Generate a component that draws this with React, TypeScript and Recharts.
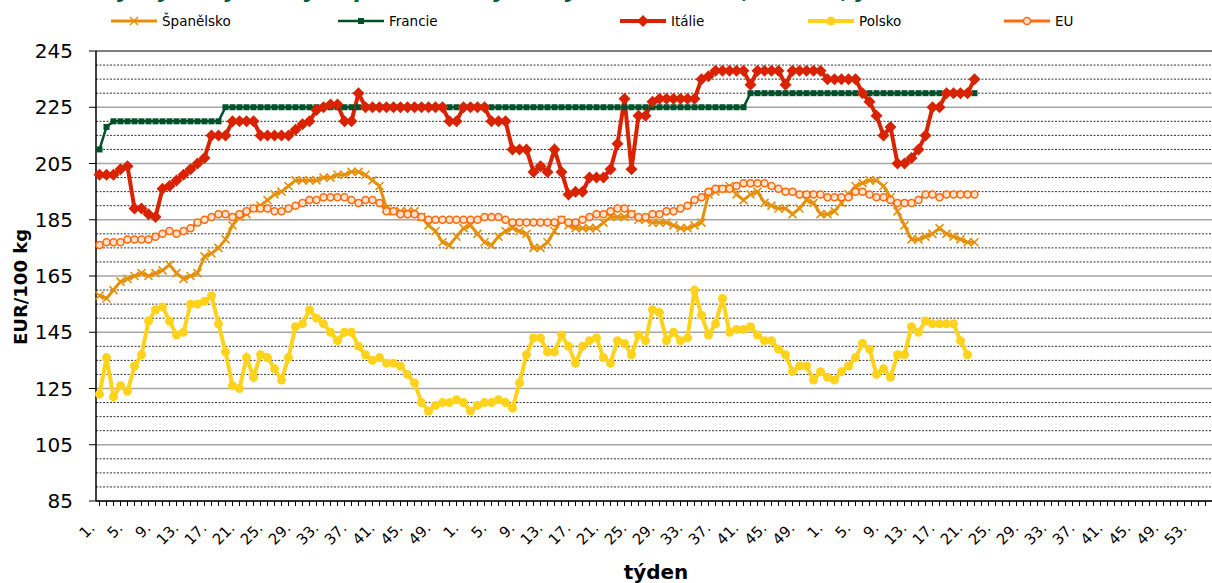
import React from 'react'
import { LineChart, Line, XAxis, YAxis, CartesianGrid, ReferenceLine, Label } from 'recharts'

// week numbers per season (the x axis runs over several years)
const yearLengths = [52, 52, 53, 3]
const weekLabels: string[] = yearLengths.flatMap(n => Array.from({ length: n }, (_, i) => `${i + 1}.`))

const majorTicks = [85, 105, 125, 145, 165, 185, 205, 225, 245]
const minorTicks = [90, 95, 100, 110, 115, 120, 130, 135, 140, 150, 155, 160, 170, 175, 180, 190, 195, 200, 210, 215, 220, 230, 235, 240]

const spanelsko = [
  158, 157, 160, 163, 164, 165, 166, 165, 166, 167,
  169, 166, 164, 165, 166, 172, 173, 175, 178, 183,
  186, 187, 189, 190, 192, 194, 195, 197, 199, 199,
  199, 199, 200, 200, 201, 201, 202, 202, 201, 199,
  197, 189, 188, 188, 188, 188, 186, 183, 181, 177,
  176, 179, 182, 183, 180, 177, 176, 179, 181, 182,
  181, 180, 175, 175, 177, 181, 185, 183, 182, 182,
  182, 182, 184, 186, 186, 186, 187, 185, 185, 184,
  184, 184, 183, 182, 182, 183, 184, 194, 195, 196,
  197, 194, 192, 194, 195, 191, 190, 189, 189, 187,
  189, 192, 191, 187, 187, 188, 191, 194, 197, 198,
  199, 199, 197, 193, 188, 183, 178, 178, 179, 180,
  182, 180, 179, 178, 177, 177,
]

const francie = [
  210, 218, 220, 220, 220, 220, 220, 220, 220, 220,
  220, 220, 220, 220, 220, 220, 220, 220, 225, 225,
  225, 225, 225, 225, 225, 225, 225, 225, 225, 225,
  225, 225, 225, 225, 225, 225, 225, 225, 225, 225,
  225, 225, 225, 225, 225, 225, 225, 225, 225, 225,
  225, 225, 225, 225, 225, 225, 225, 225, 225, 225,
  225, 225, 225, 225, 225, 225, 225, 225, 225, 225,
  225, 225, 225, 225, 225, 225, 225, 225, 225, 225,
  225, 225, 225, 225, 225, 225, 225, 225, 225, 225,
  225, 225, 225, 230, 230, 230, 230, 230, 230, 230,
  230, 230, 230, 230, 230, 230, 230, 230, 230, 230,
  230, 230, 230, 230, 230, 230, 230, 230, 230, 230,
  230, 230, 230, 230, 230, 230,
]

const italie = [
  201, 201, 201, 203, 204, 189, 189, 187, 186, 196,
  197, 199, 201, 203, 205, 207, 215, 215, 215, 220,
  220, 220, 220, 215, 215, 215, 215, 215, 217, 219,
  220, 224, 225, 226, 226, 220, 220, 230, 225, 225,
  225, 225, 225, 225, 225, 225, 225, 225, 225, 225,
  220, 220, 225, 225, 225, 225, 220, 220, 220, 210,
  210, 210, 202, 204, 202, 210, 202, 194, 195, 195,
  200, 200, 200, 203, 212, 228, 203, 222, 222, 227,
  228, 228, 228, 228, 228, 228, 235, 236, 238, 238,
  238, 238, 238, 233, 238, 238, 238, 238, 233, 238,
  238, 238, 238, 238, 235, 235, 235, 235, 235, 230,
  227, 222, 215, 218, 205, 205, 207, 210, 215, 225,
  225, 230, 230, 230, 230, 235,
]

const polsko = [
  123, 136, 122, 126, 124, 133, 137, 149, 153, 154,
  149, 144, 145, 155, 155, 156, 158, 148, 138, 126,
  125, 136, 129, 137, 136, 132, 128, 136, 147, 148,
  153, 150, 148, 145, 142, 145, 145, 140, 137, 135,
  136, 134, 134, 133, 130, 127, 120, 117, 119, 120,
  120, 121, 120, 117, 119, 120, 120, 121, 120, 118,
  127, 137, 143, 143, 138, 138, 144, 140, 134, 140,
  142, 143, 136, 134, 142, 141, 137, 144, 142, 153,
  152, 142, 145, 142, 143, 160, 151, 144, 148, 157,
  145, 146, 146, 147, 144, 142, 142, 139, 137, 131,
  133, 133, 128, 131, 129, 128, 131, 133, 136, 141,
  139, 130, 132, 129, 137, 137, 147, 145, 149, 148,
  148, 148, 148, 142, 137,
]

const eu = [
  176, 177, 177, 177, 178, 178, 178, 178, 179, 180,
  181, 180, 181, 182, 184, 185, 186, 187, 187, 186,
  187, 188, 189, 189, 189, 188, 188, 189, 190, 191,
  192, 192, 193, 193, 193, 193, 192, 191, 192, 192,
  191, 188, 188, 187, 187, 187, 186, 185, 185, 185,
  185, 185, 185, 185, 185, 186, 186, 186, 185, 184,
  184, 184, 184, 184, 184, 184, 185, 184, 184, 185,
  186, 187, 187, 188, 189, 189, 187, 186, 186, 187,
  187, 188, 188, 189, 190, 192, 193, 195, 196, 196,
  196, 197, 198, 198, 198, 198, 197, 196, 195, 195,
  194, 194, 194, 194, 193, 193, 193, 193, 195, 195,
  194, 193, 193, 192, 191, 191, 191, 192, 194, 194,
  193, 194, 194, 194, 194, 194,
]

const rows = weekLabels.map((wk, i) => ({
  idx: i,
  wk,
  es: spanelsko[i] ?? null,
  fr: francie[i] ?? null,
  it: italie[i] ?? null,
  pl: polsko[i] ?? null,
  eu: eu[i] ?? null,
}))

type Shape = 'x' | 'square' | 'diamond' | 'disc' | 'ring'

const series: { key: string; name: string; color: string; width: number; shape: Shape }[] = [
  { key: 'es', name: 'Španělsko', color: '#E6900A', width: 3, shape: 'x' },
  { key: 'fr', name: 'Francie', color: '#00502B', width: 2.5, shape: 'square' },
  { key: 'it', name: 'Itálie', color: '#D92200', width: 4, shape: 'diamond' },
  { key: 'pl', name: 'Polsko', color: '#FFD21C', width: 4, shape: 'disc' },
  { key: 'eu', name: 'EU', color: '#FF6A0E', width: 3, shape: 'ring' },
]

const legendX = [111, 338, 620, 808, 1004]

function Marker({ shape, color, cx, cy }: { shape: Shape; color: string; cx: number; cy: number }) {
  switch (shape) {
    case 'x':
      return (
        <g stroke={color} strokeWidth={1.6}>
          <line x1={cx - 4} y1={cy - 4} x2={cx + 4} y2={cy + 4} />
          <line x1={cx - 4} y1={cy + 4} x2={cx + 4} y2={cy - 4} />
        </g>
      )
    case 'square':
      return <rect x={cx - 3} y={cy - 3} width={6} height={6} fill={color} />
    case 'diamond':
      return <polygon points={`${cx},${cy - 6} ${cx + 6},${cy} ${cx},${cy + 6} ${cx - 6},${cy}`} fill={color} />
    case 'disc':
      return <circle cx={cx} cy={cy} r={4.5} fill={color} />
    default:
      return <circle cx={cx} cy={cy} r={3.5} fill="#FDE3CF" stroke={color} strokeWidth={1.5} />
  }
}

const dotFor = (shape: Shape, color: string) => (p: any) => {
  const k = `${shape}-${p.index}`
  if (p.cx == null || p.cy == null || p.value == null) return <g key={k} />
  return (
    <g key={k}>
      <Marker shape={shape} color={color} cx={p.cx} cy={p.cy} />
    </g>
  )
}

const WeekTick = (props: any) => {
  const { x, y, payload, index } = props
  if (index % 4 !== 0) return <g />
  const tx = x - 4
  const ty = y + 21
  return (
    <text x={tx} y={ty} transform={`rotate(-45 ${tx} ${ty})`} textAnchor="end" fontSize={15} fontFamily="DejaVu Sans" fill="#000">
      {payload.value}
    </text>
  )
}

export default function App() {
  return (
    <div style={{ position: 'fixed', left: 0, top: 0, width: 1212, height: 583, overflow: 'hidden', background: '#fff' }}>
      <LineChart width={1216} height={583} data={rows} margin={{ top: 51, right: 0, bottom: 0, left: 0 }}>
        <CartesianGrid vertical={false} stroke="#A6A6A6" strokeWidth={1.5} />
        {minorTicks.map(v => (
          <ReferenceLine key={v} y={v} stroke="#333" strokeWidth={1} strokeDasharray="2 1.5" />
        ))}
        <ReferenceLine y={245} stroke="#404040" strokeWidth={1} />
        <XAxis
          dataKey="wk"
          interval={0}
          tick={<WeekTick />}
          tickSize={5}
          tickLine={{ stroke: '#000' }}
          axisLine={{ stroke: '#000', strokeWidth: 1.5 }}
          height={82}
          padding={{ left: 3.5, right: 3.5 }}
        >
          <Label value="týden" position="insideBottom" offset={4} fontSize={20} fontWeight="bold" fontFamily="DejaVu Sans" fill="#000" />
        </XAxis>
        <YAxis
          domain={[85, 245]}
          ticks={majorTicks}
          width={96}
          tickSize={7}
          tickMargin={16}
          tick={{ fontSize: 20, fontFamily: 'DejaVu Sans', fill: '#000' }}
          tickLine={{ stroke: '#000' }}
          axisLine={{ stroke: '#000', strokeWidth: 1.5 }}
          allowDataOverflow
        />
        {series.map(s => (
          <Line
            key={s.key}
            dataKey={s.key}
            name={s.name}
            stroke={s.color}
            strokeWidth={s.width}
            dot={dotFor(s.shape, s.color)}
            activeDot={false}
            isAnimationActive={false}
            connectNulls={false}
          />
        ))}
      </LineChart>
      <svg width={1212} height={583} style={{ position: 'absolute', left: 0, top: 0, pointerEvents: 'none' }}>
        <text x={100} y={-2} fontSize={22} fontWeight="bold" fontStyle="italic" fontFamily="DejaVu Sans" fill="#0B5A3B">
          Vývoj cen jatečných prasat ve vybraných zemích EU, třída S, jatečná hmotnost
        </text>
        {series.map((s, i) => (
          <g key={s.key}>
            <line x1={legendX[i]} y1={21} x2={legendX[i] + 46} y2={21} stroke={s.color} strokeWidth={s.width} />
            <Marker shape={s.shape} color={s.color} cx={legendX[i] + 23} cy={21} />
            <text x={legendX[i] + 51} y={21} dominantBaseline="central" fontSize={13.5} fontFamily="DejaVu Sans" fill="#000">
              {s.name}
            </text>
          </g>
        ))}
        <text
          x={20}
          y={287}
          transform="rotate(-90 20 287)"
          textAnchor="middle"
          dominantBaseline="central"
          fontSize={18}
          fontWeight="bold"
          fontFamily="DejaVu Sans"
          fill="#000"
        >
          EUR/100 kg
        </text>
      </svg>
    </div>
  )
}
